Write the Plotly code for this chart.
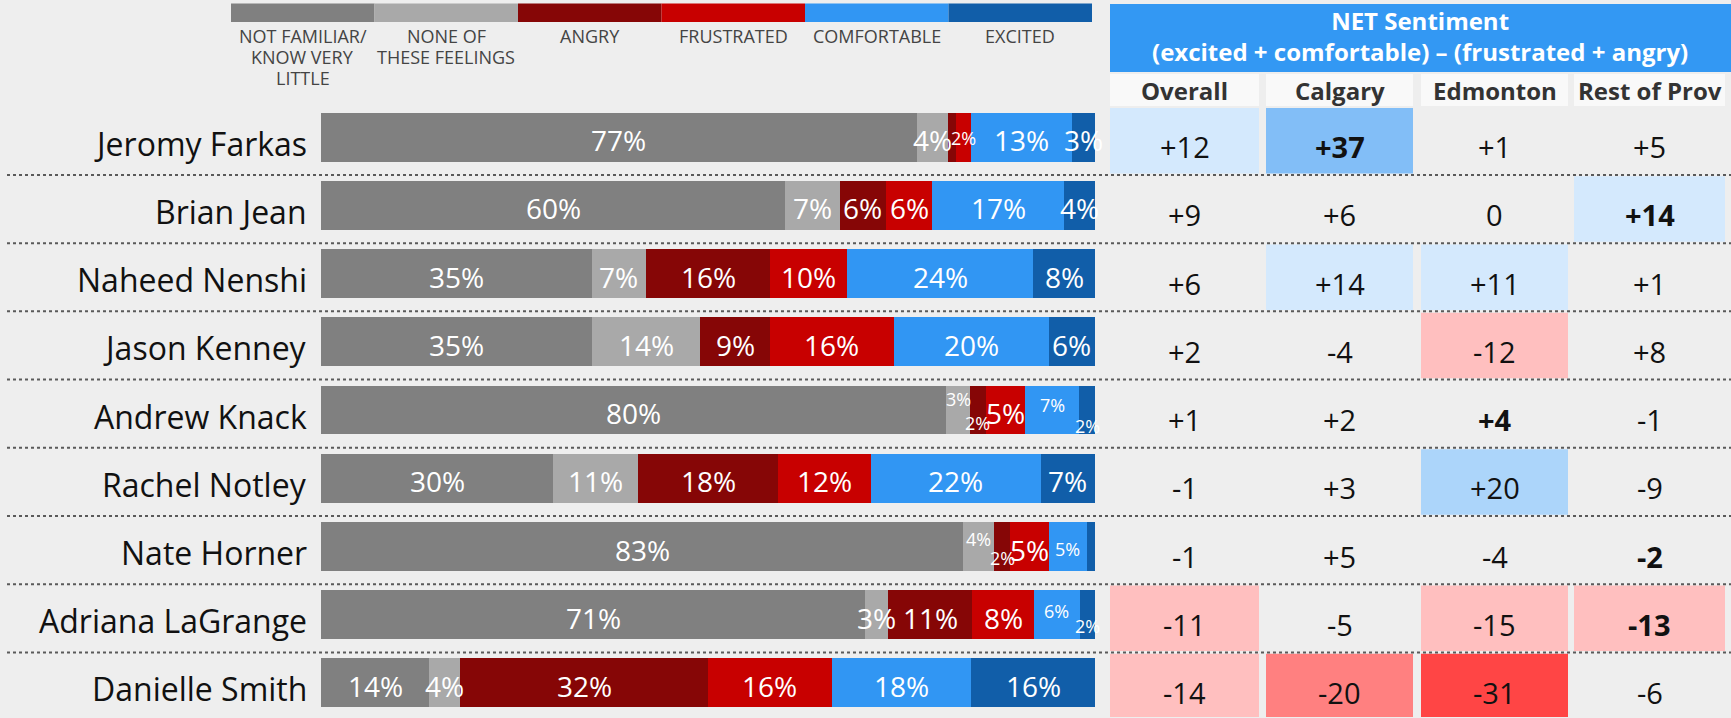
import plotly.graph_objects as go

# ---------------- data ----------------
candidates = ["Jeromy Farkas", "Brian Jean", "Naheed Nenshi", "Jason Kenney", "Andrew Knack",
              "Rachel Notley", "Nate Horner", "Adriana LaGrange", "Danielle Smith"]
categories = ["NOT FAMILIAR/<br>KNOW VERY<br>LITTLE", "NONE OF<br>THESE FEELINGS", "ANGRY",
              "FRUSTRATED", "COMFORTABLE", "EXCITED"]
not_familiar = [77, 60, 35, 35, 80, 30, 83, 71, 14]
none_of_these = [4, 7, 7, 14, 3, 11, 4, 3, 4]
angry = [1, 6, 16, 9, 2, 18, 2, 11, 32]
frustrated = [2, 6, 10, 16, 5, 12, 5, 8, 16]
comfortable = [13, 17, 24, 20, 7, 22, 5, 6, 18]
excited = [3, 4, 8, 6, 2, 7, 1, 2, 16]

regions = ["Overall", "Calgary", "Edmonton", "Rest of Prov"]
net_overall = [12, 9, 6, 2, 1, -1, -1, -11, -14]
net_calgary = [37, 6, 14, -4, 2, 3, 5, -5, -20]
net_edmonton = [1, 0, 11, -12, 4, 20, -4, -15, -31]
net_rest = [5, 14, 1, 8, -1, -9, -2, -13, -6]
# statistically highlighted (bold) cells: (row, column)
highlighted = [(0, 1), (1, 3), (4, 2), (6, 3), (7, 3)]

# ---------------- styling ----------------
W, H = 1731, 718
BG = "#eeeeee"
FONT = "Open Sans"
seg_colors = ["#808080", "#a9a9a9", "#860606", "#c80000", "#3196f3", "#115ea9"]
# small labels: (row, segment) -> vertical pixel offset (down positive)
small_labels = {(0, 3): 0, (4, 1): -12, (4, 2): 12, (4, 4): -6, (4, 5): 15,
                (6, 1): -9, (6, 2): 10, (6, 4): 1, (7, 4): -5, (7, 5): 10}

ROW0, PITCH = 137.2, 68.22
BAR_X0, BAR_X1 = 321, 1095
col_x = [(1110, 1259), (1266, 1413), (1421, 1568), (1574, 1725)]


def px(p):
    return p / W


def py(p):
    return 1 - p / H


series = [not_familiar, none_of_these, angry, frustrated, comfortable, excited]
n = len(candidates)
totals = [sum(s[i] for s in series) for i in range(n)]
widths = [[s[i] / totals[i] * 100 for i in range(n)] for s in series]

fig = go.Figure()
for k, cat in enumerate(categories):
    fig.add_trace(go.Bar(
        x=widths[k], y=list(range(n)), orientation="h",
        marker=dict(color=seg_colors[k], line=dict(width=0)),
        width=0.718, name=cat.replace("<br>", " "), showlegend=False, hoverinfo="skip"))

annotations = []
shapes = []


def ann(**kw):
    kw.setdefault("showarrow", False)
    kw.setdefault("xanchor", "center")
    kw.setdefault("yanchor", "middle")
    annotations.append(kw)


# bar labels
for i in range(n):
    cum = 0
    for k in range(6):
        w = widths[k][i]
        v = series[k][i]
        c = cum + w / 2
        cum += w
        if v <= 1:
            continue
        small = (i, k) in small_labels
        ann(x=c, y=i, xref="x", yref="y", text=f"{v}%",
            font=dict(family=FONT, size=18 if small else 28, color="white"),
            yshift=-small_labels.get((i, k), 0) - (1 if small else 3))

# candidate names
for i, name in enumerate(candidates):
    ann(x=px(309), y=i, xref="paper", yref="y", text=name, xanchor="right", yshift=-6,
        font=dict(family=FONT, size=32, color="#111111"))

# dotted separators
for i in range(n - 1):
    shapes.append(dict(type="line", xref="paper", yref="y", x0=px(7), x1=1,
                       y0=i + 0.553, y1=i + 0.553,
                       line=dict(color="#5a5a5a", width=2, dash="dot")))


# table cells
def cell_color(v):
    a = abs(v)
    if a < 10:
        return None
    lvl = 0 if a < 20 else (1 if a < 30 else 2)
    return (["#d4e9fd", "#acd5fa", "#82bef7"] if v > 0 else ["#ffbfbf", "#ff8080", "#ff4545"])[lvl]


net = [net_overall, net_calgary, net_edmonton, net_rest]
for j, vals in enumerate(net):
    x0, x1 = col_x[j]
    for i, v in enumerate(vals):
        col = cell_color(v)
        if col:
            shapes.append(dict(type="rect", xref="paper", yref="y", x0=px(x0), x1=px(x1),
                               y0=i - 0.447 + 0.02, y1=i + 0.553 - 0.02,
                               fillcolor=col, line=dict(width=0), layer="below"))
        txt = f"+{v}" if v > 0 else f"{v}"
        if (i, j) in highlighted:
            txt = f"<b>{txt}</b>"
        ann(x=px((x0 + x1) / 2), y=i + 0.14, xref="paper", yref="y", text=txt,
            font=dict(family=FONT, size=29, color="#111111"))
    # column header
    shapes.append(dict(type="rect", xref="paper", yref="paper", x0=px(x0), x1=px(x1),
                       y0=py(106), y1=py(74), fillcolor="#f9f9f9", line=dict(width=0)))
    ann(x=px((x0 + x1) / 2), y=py(90), xref="paper", yref="paper",
        text=f"<b>{regions[j]}</b>", font=dict(family=FONT, size=24, color="#333333"))

# table header
shapes.append(dict(type="rect", xref="paper", yref="paper", x0=px(1110), x1=1, y0=py(72), y1=py(4),
                   fillcolor="#3398f3", line=dict(width=0)))
ann(x=px(1420), y=py(36), xref="paper", yref="paper",
    text="<b>NET Sentiment</b><br><b>(excited + comfortable) – (frustrated + angry)</b>",
    font=dict(family=FONT, size=24, color="white"))

# legend
LX0, LSEG = 231, 143.5
for k, cat in enumerate(categories):
    shapes.append(dict(type="rect", xref="paper", yref="paper", x0=px(LX0 + k * LSEG),
                       x1=px(LX0 + (k + 1) * LSEG), y0=py(22), y1=py(3.5),
                       fillcolor=seg_colors[k], line=dict(width=0)))
    for li, line in enumerate(cat.split("<br>")):
        ann(x=px(LX0 + (k + 0.5) * LSEG), y=py(36 + 21 * li), xref="paper", yref="paper",
            text=line, font=dict(family=FONT, size=18, color="#444444"))

fig.update_layout(
    width=W, height=H, margin=dict(l=0, r=0, t=0, b=0),
    paper_bgcolor=BG, plot_bgcolor="rgba(0,0,0,0)",
    barmode="stack", bargap=0,
    xaxis=dict(domain=[px(BAR_X0), px(BAR_X1)], range=[0, 100], visible=False, fixedrange=True),
    yaxis=dict(domain=[py(ROW0 + 8.5 * PITCH), py(ROW0 - 0.5 * PITCH)],
               range=[n - 0.5, -0.5], visible=False, fixedrange=True),
    annotations=annotations, shapes=shapes,
    font=dict(family=FONT),
)

fig.write_html("out.html", post_script="document.body.style.margin='0';",
               config={"displayModeBar": False})
